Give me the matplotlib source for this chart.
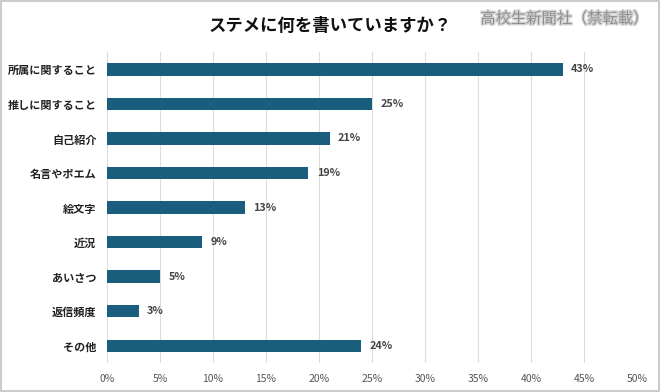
import matplotlib
matplotlib.use("Agg")
import matplotlib.pyplot as plt
from matplotlib.patches import Rectangle
import matplotlib.patheffects as pe

plt.rcParams['font.family'] = ['Noto Sans CJK JP', 'DejaVu Sans']

categories = ["所属に関すること", "推しに関すること", "自己紹介", "名言やポエム", "絵文字", "近況", "あいさつ", "返信頻度", "その他"]
values = [43, 25, 21, 19, 13, 9, 5, 3, 24]
xticks = [0, 5, 10, 15, 20, 25, 30, 35, 40, 45, 50]

fig = plt.figure(figsize=(6.6, 3.92), dpi=100)
ax = fig.add_axes([0.162, 0.074, 0.803, 0.793])

y = list(range(len(categories)))
ax.barh(y, values, height=0.36, color="#1a5e7d", zorder=3)
for yi, v in zip(y, values):
    ax.text(v + 0.8, yi, f"{v}%", va="center", ha="left", fontsize=7.8,
            fontweight="bold", color="#444444")

ax.set_ylim(len(categories) - 0.5, -0.5)
ax.set_xlim(0, 50)
ax.set_yticks(y)
ax.set_yticklabels(categories, fontsize=8, fontweight="bold", color="#222222")
ax.set_xticks(xticks)
ax.set_xticklabels([f"{t}%" for t in xticks], fontsize=7.5, color="#555555")
ax.tick_params(axis="both", length=0)
ax.tick_params(axis="y", pad=7.5)
ax.tick_params(axis="x", pad=8)
ax.grid(axis="x", color="#dddddd", linewidth=0.8, zorder=0)
for s in ax.spines.values():
    s.set_visible(False)

fig.text(0.5, 0.935, "ステメに何を書いていますか？", ha="center", va="center",
         fontsize=12.5, fontweight="bold", color="#111111")
fig.text(0.982, 0.952, "高校生新聞社（禁転載）", ha="right", va="center",
         fontsize=11, color="#8e8e8e",
         path_effects=[pe.withStroke(linewidth=2, foreground="#d4d4d4")])

fig.patches.append(Rectangle((0.001, 0.002), 0.997, 0.995, transform=fig.transFigure,
                             fill=False, edgecolor="#cccccc", linewidth=1.5))

fig.savefig("out.png", dpi=100)
